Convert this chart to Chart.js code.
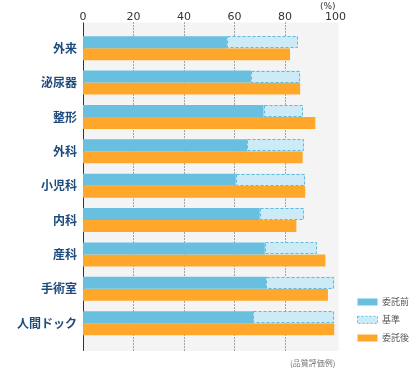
<!DOCTYPE html>
<html lang="ja">
<head>
<meta charset="UTF-8">
<title>品質評価例</title>
<script src="https://cdn.jsdelivr.net/npm/chart.js"></script>
<style>
  html, body { margin: 0; padding: 0; background: #fff; }
  #wrap { width: 410px; height: 368px; }
</style>
</head>
<body>
<div id="wrap"><canvas id="qualityChart"></canvas></div>
<script>
const categories = ['外来', '泌尿器', '整形', '外科', '小児科', '内科', '産科', '手術室', '人間ドック'];
const beforeValues = [57, 66.5, 71.5, 65, 60.5, 70, 72, 72.5, 67.5];
const standardValues = [85, 86, 87, 87.5, 88, 87.5, 92.5, 99.5, 99.5];
const afterValues = [82, 86, 92, 87, 88, 84.5, 96, 97, 99.5];
const gridValues = [20, 40, 60, 80];

const BLUE = '#69bfdf';
const PALE = '#cdebf6';
const DASH = '#5fb9dc';
const ORANGE = '#ffa72a';

// grey panel, dotted grid and left axis line, a bit taller than the chart area
const panel = {
  id: 'panel',
  beforeDatasetsDraw(chart) {
    const { ctx, chartArea: a, scales: { x } } = chart;
    const top = a.top - 8.5, bottom = a.bottom + 10.5;
    ctx.save();
    ctx.fillStyle = '#f4f4f4';
    ctx.fillRect(a.left, top, a.right - a.left + 3, bottom - top);
    ctx.strokeStyle = '#555';
    ctx.lineWidth = 1;
    ctx.setLineDash([1, 2]);
    gridValues.forEach(v => {
      const px = Math.round(x.getPixelForValue(v)) + 0.5;
      ctx.beginPath();
      ctx.moveTo(px, top);
      ctx.lineTo(px, bottom);
      ctx.stroke();
    });
    ctx.setLineDash([]);
    ctx.strokeStyle = '#333';
    const lx = Math.round(a.left) + 0.5;
    ctx.beginPath();
    ctx.moveTo(lx, top);
    ctx.lineTo(lx, bottom);
    ctx.stroke();
    ctx.restore();
  },
  afterDatasetsDraw(chart) {
    // dashed outline on the 基準 bars
    const { ctx } = chart;
    const meta = chart.getDatasetMeta(1);
    ctx.save();
    ctx.strokeStyle = DASH;
    ctx.lineWidth = 1;
    ctx.setLineDash([3, 2]);
    meta.data.forEach(bar => {
      const p = bar.getProps(['x', 'y', 'base', 'height'], true);
      const l = Math.min(p.x, p.base), r = Math.max(p.x, p.base);
      const t = p.y - p.height / 2;
      ctx.strokeRect(Math.round(l) + 0.5, Math.round(t) + 0.5, Math.round(r - l) - 1, Math.round(p.height) - 1);
    });
    ctx.restore();
  }
};

// push the legend down into the bottom-right corner
const legendNudge = {
  id: 'legendNudge',
  afterLayout(chart) {
    const lg = chart.legend;
    lg.left += 13; lg.right += 13;
    lg.top += 11; lg.bottom += 11;
  }
};

new Chart(document.getElementById('qualityChart'), {
  type: 'bar',
  data: {
    labels: categories,
    datasets: [
      { label: '委託前', data: beforeValues, backgroundColor: BLUE, stack: 'pre' },
      { label: '基準', data: categories.map((_, i) => [beforeValues[i], standardValues[i]]), backgroundColor: PALE, stack: 'pre' },
      { label: '委託後', data: afterValues, backgroundColor: ORANGE, stack: 'post' }
    ]
  },
  options: {
    indexAxis: 'y',
    responsive: true,
    maintainAspectRatio: false,
    animation: false,
    layout: { padding: { right: 4 } },
    datasets: { bar: { categoryPercentage: 0.7, barPercentage: 1, borderWidth: 0 } },
    scales: {
      x: {
        position: 'top',
        stacked: false,
        min: 0,
        max: 100,
        ticks: { stepSize: 20, padding: 7, color: '#333', font: { family: 'DejaVu Sans', size: 11 } },
        grid: { display: false, drawTicks: false },
        border: { display: false },
        title: { display: true, text: '(%)', align: 'end', color: '#333', padding: { top: 2, bottom: 0 }, font: { family: 'DejaVu Sans', size: 9, lineHeight: 1 } },
        afterFit(scale) { scale.height = 31; }
      },
      y: {
        ticks: { padding: 6, color: '#1e4a7c', font: { family: 'Noto Sans CJK JP', size: 12, weight: 'bold' } },
        grid: { display: false, drawTicks: false },
        border: { display: false },
        afterFit(scale) { scale.width = 83; }
      }
    },
    plugins: {
      legend: {
        position: 'right',
        align: 'end',
        fullSize: false,
        labels: {
          boxWidth: 20,
          boxHeight: 7,
          padding: 9,
          color: '#555',
          font: { family: 'Noto Sans CJK JP', size: 9 },
          generateLabels(chart) {
            const items = Chart.defaults.plugins.legend.labels.generateLabels(chart);
            items.forEach((it, i) => {
              it.lineWidth = i === 1 ? 1 : 0;
              it.strokeStyle = DASH;
              it.lineDash = i === 1 ? [2, 2] : [];
            });
            return items;
          }
        }
      },
      subtitle: {
        display: true,
        text: '(品質評価例)',
        position: 'bottom',
        align: 'end',
        fullSize: false,
        color: '#777',
        padding: { top: 18, bottom: 0 },
        font: { family: 'Noto Sans CJK JP', size: 8 }
      },
      tooltip: { enabled: false }
    }
  },
  plugins: [panel, legendNudge]
});
</script>
</body>
</html>
